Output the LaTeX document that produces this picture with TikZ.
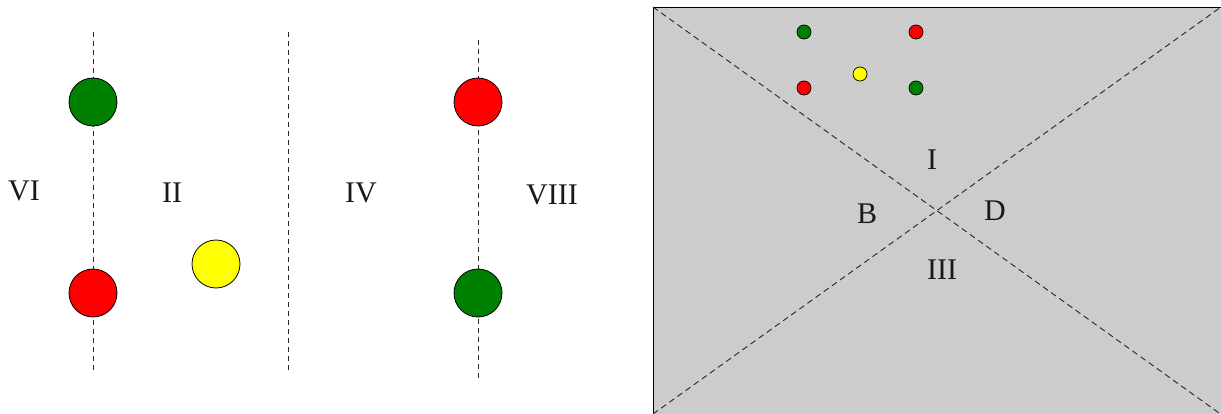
\documentclass[tikz,border=0pt]{standalone}
\usepackage{fontspec}
\setmainfont{Liberation Serif}
\definecolor{dotgreen}{HTML}{008000}
\definecolor{dotred}{HTML}{FF0000}
\definecolor{dotyellow}{HTML}{FFFF00}
\definecolor{panel}{HTML}{CCCCCC}
\tikzset{
  guide/.style={draw=black!85, line width=0.9pt, dash pattern=on 5pt off 4pt},
  bigdot/.style={circle, draw=black, line width=0.8pt, minimum size=48pt, inner sep=0pt},
  smalldot/.style={circle, draw=black, line width=0.7pt, minimum size=14pt, inner sep=0pt},
  roman/.style={font=\fontsize{30}{30}\selectfont, text=black!90, inner sep=0pt},
}
\begin{document}
\begin{tikzpicture}[x=1pt, y=-1pt]
\useasboundingbox (0,0) rectangle (1221,414);

% vertical guide lines on the left half
\coordinate (g1t) at (93,32);  \coordinate (g1b) at (93,370);
\coordinate (g2t) at (288,32); \coordinate (g2b) at (288,370);
\coordinate (g3t) at (478,40); \coordinate (g3b) at (478,378);
\draw[guide] (g1t) -- (g1b);
\draw[guide] (g2t) -- (g2b);
\draw[guide] (g3t) -- (g3b);

% large dots
\node[bigdot, fill=dotgreen]  (lg) at (93,102)  {};
\node[bigdot, fill=dotred]    (lr) at (93,293)  {};
\node[bigdot, fill=dotyellow] (ly) at (216,264) {};
\node[bigdot, fill=dotred]    (rr) at (478,102) {};
\node[bigdot, fill=dotgreen]  (rg) at (478,293) {};

% region labels, left half
\node[roman] (lVI)   at (24,191)  {VI};
\node[roman] (lII)   at (172,193) {II};
\node[roman] (lIV)   at (361,193) {IV};
\node[roman] (lVIII) at (552,195) {VIII};

% grey panel with its two diagonals; it runs past the right and bottom edges
\coordinate (ptl) at (653,7);
\coordinate (pbr) at (1226,418);
\coordinate (ptr) at (1226,3.4);
\coordinate (pbl) at (653,414);
\begin{scope}
  \clip (0,0) rectangle (1221,414);
  \draw[fill=panel, line width=0.9pt] (ptl) rectangle (pbr);
  \draw[guide, dash pattern=on 6pt off 4pt] (ptl) -- (pbr);
  \draw[guide, dash pattern=on 6pt off 4pt] (pbl) -- (ptr);
\end{scope}

% small dots in the panel
\node[smalldot, fill=dotgreen]  (sg1) at (804,32) {};
\node[smalldot, fill=dotred]    (sr1) at (916,32) {};
\node[smalldot, fill=dotyellow] (sy)  at (860,74) {};
\node[smalldot, fill=dotred]    (sr2) at (804,88) {};
\node[smalldot, fill=dotgreen]  (sg2) at (916,88) {};

% panel labels
\node[roman] (pI)   at (932,160) {I};
\node[roman] (pB)   at (867,214) {B};
\node[roman] (pD)   at (995,211) {D};
\node[roman] (pIII) at (942,270) {III};
\end{tikzpicture}
\end{document}
